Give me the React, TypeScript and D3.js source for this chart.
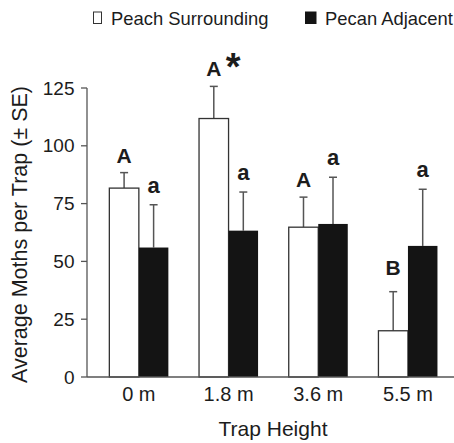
import React from "react";
import * as d3 from "d3";

const categories = ["0 m", "1.8 m", "3.6 m", "5.5 m"];
const series = ["Peach Surrounding", "Pecan Adjacent"];
const peachMeans = [81.7, 111.8, 64.8, 20];
const peachSE = [6.7, 13.9, 13, 16.9];
const pecanMeans = [56, 63.3, 66.2, 56.7];
const pecanSE = [18.5, 16.7, 20.2, 24.5];
const peachLetters = ["A", "A", "A", "B"];
const peachMarks = ["", "*", "", ""];
const pecanLetters = ["a", "a", "a", "a"];
const yTicks = [0, 25, 50, 75, 100, 125];

const W = 454;
const H = 443;
const FONT = "'Liberation Sans', Arial, Helvetica, sans-serif";
const TXT = "#1c1c1c";
const AXIS = "#555";

export default function App() {
  const y = d3.scaleLinear().domain([0, 125]).range([377, 88]);
  const x = d3
    .scaleBand<string>()
    .domain(categories)
    .range([91.4, 455.4])
    .paddingInner(0.342)
    .paddingOuter(0.2);
  const xs = d3.scaleBand<string>().domain(series).range([0, x.bandwidth()]).padding(0);
  const bw = xs.bandwidth();

  const groups = categories.map((c, i) => ({
    c,
    bars: [
      { s: series[0], mean: peachMeans[i], se: peachSE[i], letter: peachLetters[i], mark: peachMarks[i], fill: "#fff" },
      { s: series[1], mean: pecanMeans[i], se: pecanSE[i], letter: pecanLetters[i], mark: "", fill: "#141414" },
    ],
  }));

  const gapFor = (l: string) => (l === "B" ? 16.5 : l === "a" ? 12 : 10);

  return (
    <svg width={W} height={H} style={{ position: "absolute", left: 0, top: 0 }} fontFamily={FONT}>
      <rect x={0} y={0} width={W} height={H} fill="#fff" />
      {/* legend */}
      <rect x={93.5} y={12} width={8} height={11.5} fill="#fff" stroke="#333" strokeWidth={1} />
      <text x={111} y={25} fontSize={18.4} fill={TXT}>{series[0]}</text>
      <rect x={305} y={11.5} width={11.5} height={12.5} fill="#141414" />
      <text x={325} y={25} fontSize={18.4} fill={TXT}>{series[1]}</text>

      {/* bars */}
      {groups.map((g) => (
        <g key={g.c} transform={`translate(${x(g.c)},0)`}>
          {g.bars.map((b) => {
            const bx = xs(b.s)!;
            const cx = bx + bw / 2;
            const top = y(b.mean);
            const cap = y(b.mean + b.se);
            return (
              <g key={b.s}>
                <line x1={cx} x2={cx} y1={top} y2={cap} stroke={AXIS} strokeWidth={1.5} />
                <line x1={cx - 4} x2={cx + 4} y1={cap} y2={cap} stroke={AXIS} strokeWidth={1.5} />
                <rect
                  x={bx}
                  y={top}
                  width={bw}
                  height={y(0) - top}
                  fill={b.fill}
                  stroke={b.fill === "#fff" ? "#333" : "none"}
                  strokeWidth={1.3}
                />
                <text
                  x={cx}
                  y={cap - gapFor(b.letter)}
                  textAnchor="middle"
                  fontSize={b.letter === "a" ? 22 : 21}
                  fontWeight="bold"
                  fill={TXT}
                >
                  {b.letter}
                </text>
                {b.mark && (
                  <text x={cx + 12} y={cap - gapFor(b.letter) + 4} fontSize={38} fontWeight="bold" fill={TXT}>
                    {b.mark}
                  </text>
                )}
              </g>
            );
          })}
        </g>
      ))}

      {/* y axis */}
      <line x1={87} x2={87} y1={y(125)} y2={y(0)} stroke={AXIS} strokeWidth={1.3} />
      {yTicks.map((t) => (
        <g key={t}>
          <line x1={81} x2={87} y1={y(t)} y2={y(t)} stroke={AXIS} strokeWidth={1.3} />
          <text x={74.5} y={y(t)} dy="0.35em" textAnchor="end" fontSize={19} fill={TXT}>
            {t}
          </text>
        </g>
      ))}
      {/* x axis */}
      <line x1={87} x2={454} y1={y(0)} y2={y(0)} stroke={AXIS} strokeWidth={1.3} />
      {categories.map((c) => (
        <text key={c} x={x(c)! + x.bandwidth() / 2} y={400.5} textAnchor="middle" fontSize={20} fill={TXT}>
          {c}
        </text>
      ))}
      <text x={273} y={436} textAnchor="middle" fontSize={21} fill={TXT}>
        Trap Height
      </text>
      <text
        transform={`translate(27,${(y(0) + y(125)) / 2 + 2}) rotate(-90)`}
        textAnchor="middle"
        fontSize={21.5}
        fill={TXT}
      >
        Average Moths per Trap (± SE)
      </text>
    </svg>
  );
}
